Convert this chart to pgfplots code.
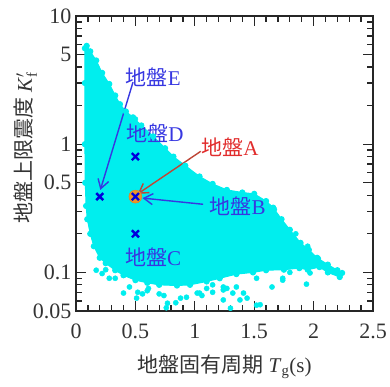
\documentclass[border=0pt]{standalone}
\usepackage{pgfplots}
\pgfplotsset{compat=1.18}
\usetikzlibrary{arrows.meta}
\usepackage{fontspec}
\setmainfont{Liberation Serif}
\newfontfamily\jp{Noto Sans CJK JP}
\definecolor{cloud}{RGB}{0,238,238}
\definecolor{lblue}{RGB}{55,55,225}
\definecolor{xblue}{RGB}{0,0,220}
\definecolor{lred}{RGB}{225,45,45}
\definecolor{ared}{RGB}{190,70,55}
\definecolor{orng}{RGB}{235,150,40}
\begin{document}
\begin{tikzpicture}
\useasboundingbox (-76bp,-76bp) rectangle (314bp,311bp);
\begin{axis}[
  scale only axis, width=297bp, height=295bp,
  xmin=0, xmax=2.5, ymode=log, ymin=0.05, ymax=10,
  xtick={0,0.5,1,1.5,2,2.5}, xticklabels={0,0.5,1,1.5,2,2.5},
  minor xtick={0.1,0.2,0.3,0.4,0.6,0.7,0.8,0.9,1.1,1.2,1.3,1.4,1.6,1.7,1.8,1.9,2.1,2.2,2.3,2.4},
  ytick={0.05,0.1,0.5,1,5,10}, yticklabels={0.05,0.1,0.5,1,5,10},
  minor ytick={0.06,0.07,0.08,0.09,0.2,0.3,0.4,0.6,0.7,0.8,0.9,2,3,4,6,7,8,9},
  tick align=inside,
  major tick length=10bp, minor tick length=6bp,
  axis line style={line width=1.8bp, black!85},
  every tick/.style={line width=1.3bp, black!85},
  tick label style={font=\fontsize{22bp}{22bp}\selectfont, text=black!80},
  xticklabel style={yshift=-9bp},
  yticklabel style={xshift=-1bp},
  xlabel={{\jp 地盤固有周期}\ \textit{T}\textsubscript{g}(s)},
  ylabel={{\jp 地盤上限震度}\ \textit{K}$'_{\mathrm{f}}$},
  label style={font=\fontsize{21bp}{21bp}\selectfont, text=black!80},
  xlabel style={at={(axis description cs:0.5,-0.19)}, anchor=center},
  ylabel style={at={(axis description cs:-0.17,0.553)}, anchor=center},
]
% dense cloud outline
\addplot[fill=cloud, draw=cloud, line width=1bp, mark=*, mark size=2.6bp, mark options={fill=cloud, draw=cloud}] coordinates {
(0.075,5.6) (0.09,5.85) (0.12,5.3) (0.17,4.5) (0.22,3.6) (0.28,2.95) (0.33,2.4) (0.37,2.05) (0.42,1.8) (0.48,1.62) (0.55,1.4) (0.65,1.15) (0.75,0.93) (0.82,0.8) (0.92,0.68) (1.04,0.56) (1.15,0.49) (1.27,0.44) (1.4,0.42) (1.5,0.41) (1.6,0.36) (1.66,0.32) (1.73,0.26) (1.8,0.215) (1.89,0.17) (1.96,0.15) (2.03,0.13) (2.12,0.115) (2.2,0.104) (2.24,0.099)
(2.22,0.092) (2.12,0.1) (2.05,0.11) (1.95,0.105) (1.88,0.108) (1.75,0.105) (1.6,0.104) (1.49,0.1) (1.35,0.097) (1.21,0.09) (1.1,0.085) (0.96,0.08) (0.85,0.079) (0.7,0.08) (0.6,0.083) (0.5,0.087) (0.4,0.095) (0.33,0.104) (0.25,0.118) (0.2,0.13) (0.15,0.16) (0.12,0.2) (0.095,0.26) (0.085,0.33) (0.078,0.5) (0.075,1) (0.075,3)
} --cycle;
% scattered outliers
\addplot[only marks, mark=*, mark size=2.6bp, mark options={fill=cloud, draw=cloud}] coordinates {
(0.5,1.57) (1.67,0.31) (0.4,0.069) (0.51,0.063) (0.77,0.0575) (0.88,0.063) (1.02,0.069) (1.3,0.0526) (1.24,0.073) (1.32,0.069) (1.44,0.063) (1.52,0.0555) (1.74,0.087) (1.65,0.077) (1.97,0.099) (2.04,0.128) (2.12,0.11) (0.6,0.072) (0.45,0.077) (0.7,0.068) (1.1,0.075) (1.15,0.08) (0.33,0.09) (0.25,0.105) (1.8,0.1) (2.0,0.115) (1.85,0.2) (1.95,0.16) (1.06,0.066) (0.56,0.068)
(0.52,0.07) (0.61,0.075) (0.74,0.066) (0.84,0.058) (0.76,0.053) (0.93,0.064) (1.04,0.069) (1.15,0.07) (1.24,0.077) (0.17,0.104) (0.22,0.098) (0.28,0.09)
(1.27,0.075) (1.35,0.077) (1.38,0.061) (1.55,0.056) (1.52,0.09) (1.74,0.09) (1.94,0.081) (1.24,0.061) (1.41,0.069)
};
% ground A circle
\addplot[only marks, mark=*, mark size=6.5bp, mark options={fill=orng, draw=orng!80!red}] coordinates {(0.5,0.39)};
% ground crosses
\addplot[only marks, mark=x, mark size=5bp, mark options={draw=xblue, line width=2.4bp}] coordinates {(0.2,0.39) (0.5,0.39) (0.5,0.8) (0.5,0.2)};
% arrows
\draw[lblue, line width=1.4bp, -{Straight Barb[length=9bp,width=11bp]}] (axis cs:0.48,3.05) -- (axis cs:0.205,0.44);
\draw[ared, line width=1.4bp, -{Straight Barb[length=9bp,width=11bp]}] (axis cs:1.05,0.88) -- (axis cs:0.52,0.41);
\draw[lblue, line width=1.4bp, -{Straight Barb[length=9bp,width=11bp]}] (axis cs:1.07,0.34) -- (axis cs:0.56,0.38);
% labels
\begin{scope}[every node/.style={font=\fontsize{21bp}{21bp}\selectfont, inner sep=0pt}]
\node[text=lblue] at (axis cs:0.65,3.33) {{\jp 地盤}E};
\node[text=lblue] at (axis cs:0.665,1.22) {{\jp 地盤}D};
\node[text=lred] at (axis cs:1.296,0.95) {{\jp 地盤}A};
\node[text=lblue] at (axis cs:1.36,0.328) {{\jp 地盤}B};
\node[text=lblue] at (axis cs:0.65,0.131) {{\jp 地盤}C};
\end{scope}
\end{axis}
\end{tikzpicture}
\end{document}
